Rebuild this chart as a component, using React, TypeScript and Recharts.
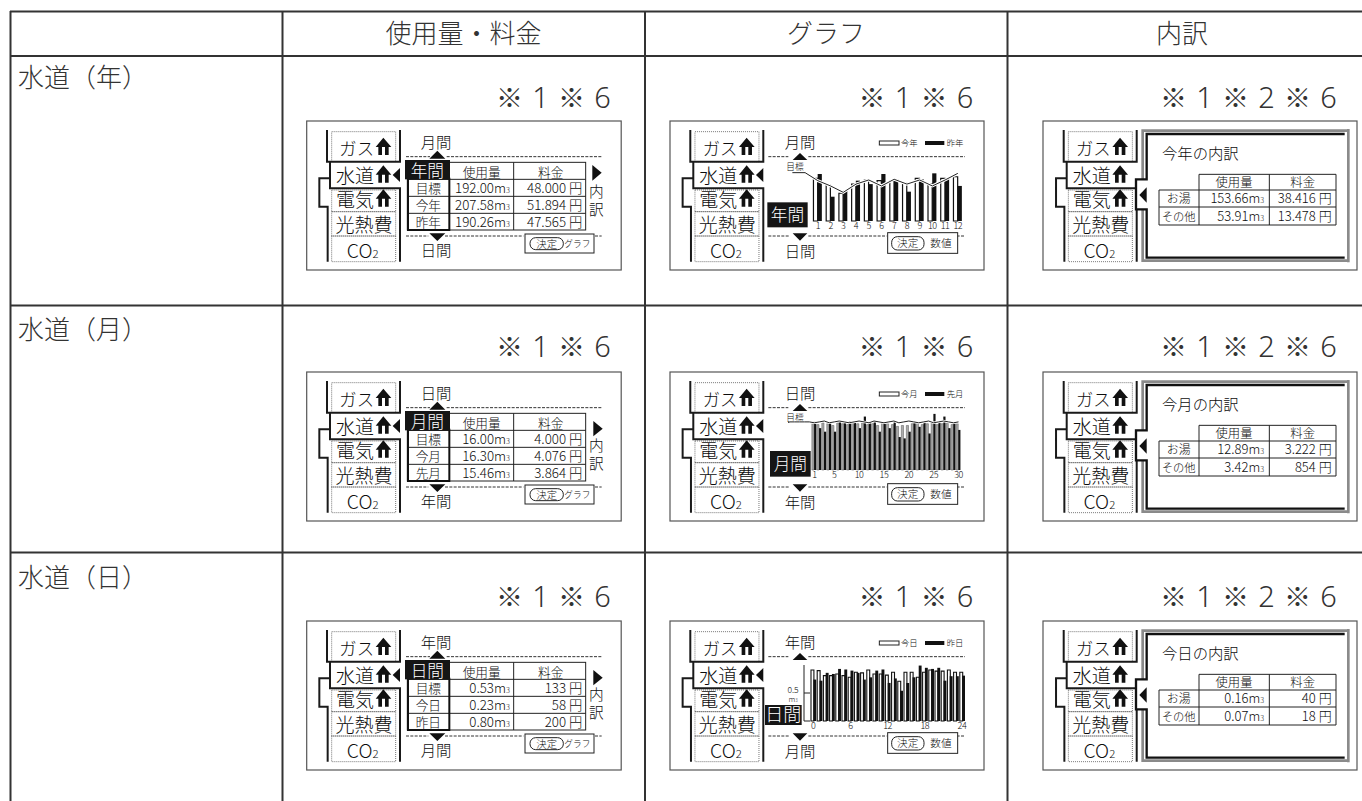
import React from "react";
import { ComposedChart, Bar, Line, XAxis, YAxis } from "recharts";

const FONT = '"Noto Sans CJK JP", "Noto Sans", sans-serif';
const INK = "#0d0d0d";

// column + row captions
const columnTitles = ["使用量・料金", "グラフ", "内訳"];
const rowTitles = ["水道（年）", "水道（月）", "水道（日）"];
const notes = [["※", "1", "※", "6"], ["※", "1", "※", "6"], ["※", "1", "※", "2", "※", "6"]];

// yearly chart, m3 per month
const yearCats = [-1, 0, 1, 2, 3, 4, 5, 6, 7, 8, 9, 10, 11, 12];
const yearNow = [18.6, 15.7, 12.1, 16.1, 17.9, 17.6, 17.6, 16.4, 18.6, 16.1, 18.6, 19.3];
const yearLast = [20.5, 10.6, 13.5, 17.6, 16.1, 20.5, 18.2, 12.8, 18.2, 20.8, 18.6, 15.3];
const yearTarget = [21.1, 21.1, 17.6, 15.3, 12.5, 16.1, 17.9, 15.3, 18.2, 16.1, 17.9, 15.3, 17.9, 20.8];

// monthly chart, m3 per day
const monthCats = [-4, -3, -2, -1, 0, 1, 2, 3, 4, 5, 6, 7, 8, 9, 10, 11, 12, 13, 14, 15, 16, 17, 18, 19, 20, 21, 22, 23, 24, 25, 26, 27, 28, 29, 30];
const monthTicks = [1, 5, 10, 15, 20, 25, 30];
const monthNow = [0.52, 0.51, 0.53, 0.52, 0.5, 0.53, 0.52, 0.51, 0.53, 0.52, 0.53, 0.51, 0.52, 0.5, 0.53, 0.52, 0.51, 0.49, 0.5, 0.5, 0.52, 0.53, 0.51, 0.52, 0.53, 0.51, 0.52, 0.53, 0.51, 0.52];
const monthLast = [0.52, 0.47, 0.43, 0.53, 0.43, 0.54, 0.53, 0.545, 0.54, 0.47, 0.6, 0.54, 0.545, 0.43, 0.52, 0.47, 0.55, 0.37, 0.355, 0.43, 0.54, 0.485, 0.55, 0.41, 0.63, 0.54, 0.6, 0.47, 0.53, 0.45];
const monthTarget = [0.54, 0.54, 0.54, 0.54, 0.54, 0.53, 0.54, 0.55, 0.53, 0.54, 0.55, 0.54, 0.53, 0.54, 0.55, 0.54, 0.53, 0.55, 0.54, 0.53, 0.54, 0.55, 0.53, 0.54, 0.55, 0.54, 0.53, 0.54, 0.55, 0.53, 0.54, 0.55, 0.54, 0.53, 0.54];

// daily chart, m3 per hour slot
const dayCats = [0, 1, 2, 3, 4, 5, 6, 7, 8, 9, 10, 11, 12, 13, 14, 15, 16, 17, 18, 19, 20, 21, 22, 23, 24];
const dayTicks = [0, 6, 12, 18, 24];
const dayNow = [0.91, 0.9, 0.81, 0.81, 0.84, 0.81, 0.78, 0.87, 0.86, 0.91, 0.84, 0.84, 0.82, 0.87, 0.71, 0.87, 0.87, 0.78, 0.87, 0.91, 0.89, 0.89, 0.91, 0.87, 0.87];
const dayLast = [0.74, 0.72, 0.86, 0.84, 0.93, 0.92, 0.9, 0.86, 0.74, 0.78, 0.9, 0.92, 0.68, 0.76, 0.54, 0.68, 0.78, 0.99, 0.95, 0.93, 0.95, 0.72, 0.8, 0.8, 0.81];

// screen texts
const periods = ["年間", "月間", "日間"];
const periodUp = ["月間", "日間", "年間"];
const periodDown = ["日間", "年間", "月間"];
const legendNames = [["今年", "昨年"], ["今月", "先月"], ["今日", "昨日"]];
const usageLabels = [["目標", "今年", "昨年"], ["目標", "今月", "先月"], ["目標", "今日", "昨日"]];
const usageValues = [["192.00", "207.58", "190.26"], ["16.00", "16.30", "15.46"], ["0.53", "0.23", "0.80"]];
const costValues = [["48.000", "51.894", "47.565"], ["4.000", "4.076", "3.864"], ["133", "58", "200"]];
const detailTitles = ["今年の内訳", "今月の内訳", "今日の内訳"];
const detailLabels = ["お湯", "その他"];
const detailUsage = [["153.66", "53.91"], ["12.89", "3.42"], ["0.16", "0.07"]];
const detailCost = [["38.416", "13.478"], ["3.222", "854"], ["40", "18"]];

const rowOrigin = [110, 361, 610];

const yearTable = yearCats.map((cat, i) => ({ cat, now: yearNow[i - 2] ?? null, last: yearLast[i - 2] ?? null, target: yearTarget[i] }));
const monthTable = monthCats.map((cat, i) => ({ cat, now: monthNow[i - 5] ?? null, last: monthLast[i - 5] ?? null, target: monthTarget[i] }));
const dayTable = dayCats.map((cat, i) => ({ cat, now: dayNow[i], last: dayLast[i] }));

const T = ({ x, y, s, a = "middle", fill = INK, children, ...rest }: any) => (
  <text x={x} y={y} fontSize={s} textAnchor={a} fill={fill} {...rest}>{children}</text>
);

// all screen parts below are drawn in 3x units, matching the crop they were read from
const third = (x: number, y: number) => `translate(${x} ${y}) scale(${1 / 3})`;

const House = ({ y }: { y: number }) => (
  <path
    fill="#111"
    transform={`translate(0 ${y})`}
    fillRule="evenodd"
    d="M250 -52 L274 -24 L266 -24 L266 0 L235 0 L235 -24 L227 -24 Z M246 -24 L246 0 L255 0 L255 -24 Z"
  />
);

const Sidebar = ({ arrow }: { arrow: boolean }) => (
  <g>
    {[[95, 65, 192, 90], [95, 240, 192, 65], [95, 305, 192, 73], [95, 378, 192, 77]].map((b, i) => (
      <rect key={i} x={b[0]} y={b[1]} width={b[2]} height={b[3]} fill="none" stroke="#333" strokeWidth={2} strokeDasharray="3 3" />
    ))}
    <T x={170} y={135} s={52}>ガス</T>
    <T x={165} y={218} s={57}>水道</T>
    <T x={165} y={290} s={57}>電気</T>
    <T x={192} y={365} s={57}>光熱費</T>
    <T x={188} y={445} s={58}>CO<tspan fontSize={34}>2</tspan></T>
    <House y={135} />
    <House y={218} />
    <House y={290} />
    <path d="M81 60 V155 H303 M90 155 V235 H303 M90 205 H58 V290 H83 V455 M300 60 V155 M300 235 V455" fill="none" stroke="#1a1a1a" strokeWidth={6} />
    {arrow && <path d="M278 195 L300 174 V216 Z" fill="#111" />}
  </g>
);

const TextValue = ({ x, y, s, v, unit }: any) => (
  <T x={x} y={y} s={s} a="end">
    {v}
    {unit === "m3" ? <>m<tspan fontSize={s * 0.55}>3</tspan></> : " 円"}
  </T>
);

const UsageScreen = ({ r }: { r: number }) => {
  const lower = r > 0;
  return (
    <g transform={third(300, rowOrigin[r])}>
      <Sidebar arrow />
      <path d="M318 140 H390 M440 140 H905 M318 378 H385 M435 378 H670 M885 378 H905" stroke="#333" strokeWidth={3} strokeDasharray="9 4" fill="none" />
      <path d="M388 146 L412 122 L436 146 Z M388 370 L436 370 L412 393 Z" fill="#111" />
      <T x={408} y={115} s={46}>{periodUp[r]}</T>
      <T x={408} y={438} s={46}>{periodDown[r]}</T>
      <rect x={322} y={157} width={535} height={203} fill="#fff" stroke="#222" strokeWidth={3} />
      {[208, 259, 310].map((y) => <path key={y} d={`M322 ${y} H857`} stroke="#222" strokeWidth={3} />)}
      <path d="M641 157 V360" stroke="#222" strokeWidth={3} />
      <rect x={324} y={206} width={124} height={154} fill="none" stroke="#111" strokeWidth={6} />
      <rect x={315} y={150} width={135} height={58} fill="#151515" />
      <T x={382} y={201} s={50} fill="#fff">{periods[r]}</T>
      <T x={545} y={200} s={38}>使用量</T>
      <T x={752} y={200} s={38}>料金</T>
      {usageLabels[r].map((t, i) => <T key={t} x={385} y={248 + i * 51} s={38}>{t}</T>)}
      {usageValues[r].map((v, i) => <TextValue key={i} x={630} y={249 + i * 51} s={40} v={v} unit="m3" />)}
      {costValues[r].map((v, i) => <TextValue key={i} x={847} y={249 + i * 51} s={40} v={v} />)}
      <path d={lower ? "M880 180 L880 226 L908 203 Z" : "M877 165 L877 212 L905 188 Z"} fill="#111" />
      <T x={889} y={lower ? 270 : 262} s={44}>内</T>
      <T x={889} y={lower ? 325 : 315} s={44}>訳</T>
      <rect x={675} y={372} width={207} height={57} fill="#fff" stroke="#222" strokeWidth={3} />
      <rect x={690} y={383} width={100} height={36} rx={17} fill="#fff" stroke="#222" strokeWidth={3} />
      <T x={740} y={413} s={31}>決定</T>
      <T x={832} y={412} s={28} textLength={78} lengthAdjust="spacingAndGlyphs">グラフ</T>
    </g>
  );
};

const boxes = [[322, 277, 121, 75], [330, 270, 122, 77], [315, 285, 110, 60]];

const GraphScreen = ({ r }: { r: number }) => {
  const b = boxes[r];
  return (
    <g>
      <g transform={third(663.3, rowOrigin[r])}><Sidebar arrow /></g>
      <g transform={third(660, rowOrigin[r])}>
        <path d="M325 140 H385 M445 140 H915 M325 378 H390 M445 378 H680 M890 378 H915" stroke="#333" strokeWidth={3} strokeDasharray="9 4" fill="none" />
        <path d="M398 150 L420 129 L442 150 Z M398 370 L442 370 L420 392 Z" fill="#111" />
        <T x={420} y={115} s={46}>{periodUp[r]}</T>
        <T x={420} y={440} s={46}>{periodDown[r]}</T>
        <rect x={b[0]} y={b[1]} width={b[2]} height={b[3]} fill="#151515" />
        <T x={b[0] + b[2] / 2} y={b[1] + b[3] / 2 + 19} s={r === 2 ? 54 : 50} fill="#fff">{periods[r]}</T>
        <rect x={658} y={93} width={59} height={12} fill="#fff" stroke="#222" strokeWidth={3} />
        <rect x={795} y={93} width={58} height={12} fill="#111" />
        <T x={748} y={108} s={25}>{legendNames[r][0]}</T>
        <T x={885} y={108} s={25}>{legendNames[r][1]}</T>
        {r < 2 && <T x={405} y={180} s={26}>目標</T>}
        {r === 1 && <path d="M384 184 H470" stroke="#222" strokeWidth={3} />}
        <rect x={683} y={368} width={210} height={62} fill="#fff" stroke="#222" strokeWidth={3} />
        <rect x={695} y={380} width={97} height={40} rx={17} fill="#fff" stroke="#222" strokeWidth={3} />
        <T x={743} y={412} s={32}>決定</T>
        <T x={843} y={412} s={32}>数値</T>
      </g>
    </g>
  );
};

const DetailScreen = ({ r }: { r: number }) => (
  <g>
    <g transform={third(1036.7, rowOrigin[r])}><Sidebar arrow={false} /></g>
    <g transform={third(1010, rowOrigin[r])}>
      <path d="M1015 62 H398 V208 M398 298 V452 H1015 M1015 57 V457" fill="none" stroke="#8a8a8a" strokeWidth={8} />
      <path d="M1004 72 H410 V208 H378 V298 H410 V443 H1004" fill="#fff" stroke="#111" strokeWidth={7} />
      <path d="M388 255 L410 232 V278 Z" fill="#111" />
      <T x={456} y={146} s={46} a="start">{detailTitles[r]}</T>
      <path d="M567 193 H978 V345 H447 V240 H978 M447 291 H978 M567 193 V345 M778 193 V345" fill="none" stroke="#222" strokeWidth={3} />
      <T x={672} y={230} s={37}>使用量</T>
      <T x={878} y={230} s={37}>料金</T>
      {detailLabels.map((t, i) => <T key={t} x={506} y={[280, 333][i]} s={i ? 34 : 36}>{t}</T>)}
      {detailUsage[r].map((v, i) => <TextValue key={i} x={762} y={[280, 333][i]} s={39} v={v} unit="m3" />)}
      {detailCost[r].map((v, i) => <TextValue key={i} x={965} y={[280, 333][i]} s={39} v={v} />)}
    </g>
  </g>
);

const tickStyle = { fontSize: 9, fill: INK, letterSpacing: -0.5, fontFamily: FONT, fontWeight: 300 };

const DayTick = ({ x, y, payload }: any) => (
  <g>
    <line x1={x} x2={x + 6} y1={y} y2={y} stroke="#222" strokeWidth={1} />
    {payload.value === 0.5 && (
      <>
        <text x={x - 11} y={y - 0.5} fontSize={8.5} textAnchor="middle" fill={INK} fontFamily={FONT} fontWeight={300}>0.5</text>
        <text x={x - 11} y={y + 8.5} fontSize={7.5} textAnchor="middle" fill={INK} fontFamily={FONT} fontWeight={300}>m<tspan fontSize={4.5}>3</tspan></text>
      </>
    )}
  </g>
);

const YearChart = () => (
  <div style={{ position: "absolute", left: 785.6, top: 166 }}>
    <ComposedChart width={186.2} height={69} data={yearTable} margin={{ top: 0, right: 8, bottom: 0, left: 0 }} barGap={0} barSize={4.2}>
      <XAxis dataKey="cat" interval={0} height={14} axisLine={false} tickLine={false} tickSize={0} tick={tickStyle} tickFormatter={(v) => (v > 0 ? String(v) : "")} />
      <YAxis hide domain={[0, 24]} />
      <Bar dataKey="now" fill="#fff" stroke="#111" strokeWidth={1.2} isAnimationActive={false} />
      <Bar dataKey="last" fill="#111" isAnimationActive={false} />
      <Line dataKey="target" stroke="#fff" strokeWidth={3} dot={false} isAnimationActive={false} />
      <Line dataKey="target" stroke="#222" strokeWidth={1} dot={false} isAnimationActive={false} />
    </ComposedChart>
  </div>
);

const MonthChart = () => (
  <div style={{ position: "absolute", left: 786.7, top: 413 }}>
    <ComposedChart width={182} height={71} data={monthTable} margin={{ top: 0, right: 8, bottom: 0, left: 0 }} barGap={0} barSize={2.2}>
      <XAxis dataKey="cat" interval={0} height={14} axisLine={false} tickLine={false} tickSize={0} tick={tickStyle} tickFormatter={(v) => (monthTicks.includes(v) ? String(v) : "")} />
      <YAxis hide domain={[0, 0.64]} />
      <Bar dataKey="now" fill="#aaa" stroke="#555" strokeWidth={0.5} isAnimationActive={false} />
      <Bar dataKey="last" fill="#111" isAnimationActive={false} />
      <Line dataKey="target" stroke="#fff" strokeWidth={2.5} dot={false} isAnimationActive={false} />
      <Line dataKey="target" stroke="#222" strokeWidth={1} dot={false} isAnimationActive={false} />
    </ComposedChart>
  </div>
);

const DayChart = () => (
  <div style={{ position: "absolute", left: 779, top: 665 }}>
    <ComposedChart width={194} height={70} data={dayTable} margin={{ top: 0, right: 8, bottom: 0, left: 0 }} barGap={-0.6} barSize={2.9}>
      <XAxis dataKey="cat" interval={0} height={14} padding={{ left: 6, right: 0 }} axisLine={false} tickLine={false} tickSize={0} tick={tickStyle} tickFormatter={(v) => (dayTicks.includes(v) ? String(v) : "")} />
      <YAxis width={25} domain={[0, 1]} ticks={[0, 0.5]} interval={0} tickLine={false} tickSize={0} tickMargin={0} axisLine={{ stroke: "#222", strokeWidth: 1 }} tick={DayTick} />
      <Bar dataKey="now" fill="#fff" stroke="#111" strokeWidth={1.1} isAnimationActive={false} />
      <Bar dataKey="last" fill="#111" isAnimationActive={false} />
    </ComposedChart>
  </div>
);

const App = () => (
  <div style={{ position: "absolute", left: 0, top: 0, width: 1362, height: 801, overflow: "hidden", background: "#fff", fontFamily: FONT }}>
    <svg width={1362} height={801} style={{ position: "absolute", left: 0, top: 0 }} fontFamily={FONT} fontWeight={300}>
      {/* outer table */}
      <path d="M10 11.5 H1362 M10 56 H1362 M10 305.5 H1362 M10 552.5 H1362" stroke="#333" strokeWidth={2} fill="none" />
      <path d="M10.5 11 V801 M282.5 11 V801 M645 11 V801 M1007.5 11 V801" stroke="#333" strokeWidth={2} fill="none" />
      {columnTitles.map((t, i) => <T key={t} x={[463.5, 826, 1182][i]} y={43} s={26} fill="#333">{t}</T>)}
      {rowTitles.map((t, i) => <T key={t} x={18} y={[87, 339, 587][i]} s={26} a="start" fill="#333">{t}</T>)}

      {rowOrigin.map((oy, r) => (
        <g key={r}>
          {[[306.7, 314.5], [670, 314], [1043, 314]].map(([x, w], c) => (
            <rect key={c} x={x} y={oy + 11} width={w} height={149} fill="#fff" stroke="#555" strokeWidth={1.2} />
          ))}
          {[602.5, 965, 1328.5].map((right, c) => (
            notes[c].slice().reverse().map((n, k) => (
              <T key={k} x={right - k * 31} y={[108, 357, 607][r]} s={n === "※" ? 27 : 29} fill="#333" fontFamily={n === "※" ? FONT : '"Noto Sans", sans-serif'}>{n}</T>
            ))
          ))}
          <UsageScreen r={r} />
          <GraphScreen r={r} />
          <DetailScreen r={r} />
        </g>
      ))}
    </svg>
    <YearChart />
    <MonthChart />
    <DayChart />
  </div>
);

export default App;
